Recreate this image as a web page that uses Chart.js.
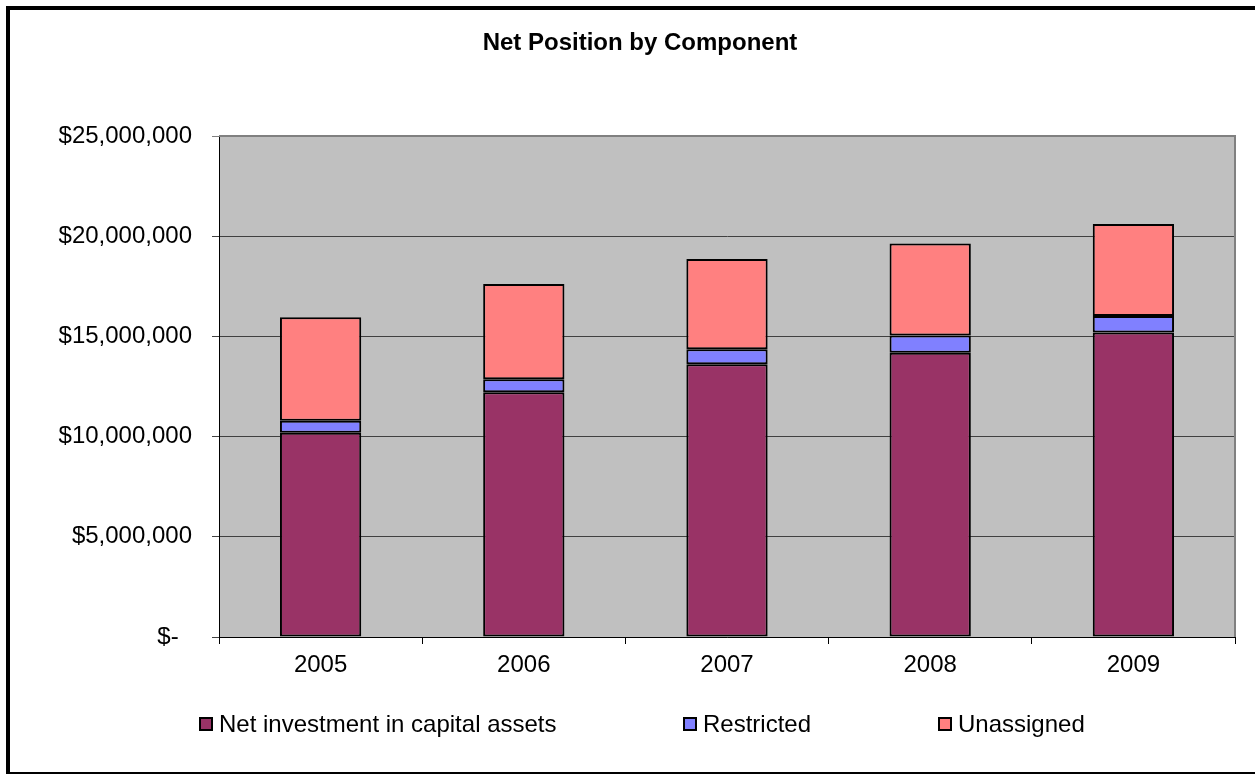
<!DOCTYPE html>
<html>
<head>
<meta charset="utf-8">
<script src="https://cdn.jsdelivr.net/npm/chart.js@4/dist/chart.umd.min.js"></script>
<style>
  html, body { margin: 0; padding: 0; background: #fff; }
  canvas { display: block; }
</style>
</head>
<body>
<canvas id="myChart" width="1255" height="774"></canvas>
<script>
const years = ['2005', '2006', '2007', '2008', '2009'];
const netInvestment = [10190000, 12210000, 13610000, 14190000, 15200000];
const restricted = [600000, 650000, 750000, 850000, 820000];
const unassigned = [5160000, 4750000, 4500000, 4590000, 4590000];
const yTicks = [0, 5000000, 10000000, 15000000, 20000000, 25000000];

const FONT = '"Liberation Sans", Arial, sans-serif';

function money(v) {
    if (v === 0) return '$-  ';
    return '$' + v.toLocaleString('en-US');
}

// frame, grey plot area, title and legend
const decor = {
    id: 'decor',
    beforeDraw(chart) {
        const ctx = chart.ctx;
        const a = chart.chartArea;
        ctx.save();
        ctx.fillStyle = '#fff';
        ctx.fillRect(0, 0, chart.width, chart.height);
        ctx.fillStyle = '#c0c0c0';
        ctx.fillRect(a.left, a.top, a.right - a.left, a.bottom - a.top);
        ctx.restore();
    },
    afterDraw(chart) {
        const ctx = chart.ctx;
        const a = chart.chartArea;
        ctx.save();
        // plot border top / right
        ctx.strokeStyle = '#808080';
        ctx.lineWidth = 2;
        ctx.beginPath();
        ctx.moveTo(a.left, a.top);
        ctx.lineTo(a.right, a.top);
        ctx.lineTo(a.right, a.bottom);
        ctx.stroke();

        // outer frame
        ctx.fillStyle = '#000';
        ctx.fillRect(6, 6, chart.width - 6, 4);
        ctx.fillRect(6, 6, 4, chart.height - 6);
        ctx.fillRect(6, chart.height - 2, chart.width - 6, 2);

        // title
        ctx.font = 'bold 24px ' + FONT;
        ctx.textAlign = 'center';
        ctx.textBaseline = 'middle';
        ctx.fillText('Net Position by Component', 640, 43);

        // legend
        const xs = [200, 684, 939];
        const ly = 724;
        ctx.font = '24px ' + FONT;
        ctx.textAlign = 'left';
        chart.data.datasets.forEach((ds, i) => {
            ctx.fillStyle = ds.backgroundColor;
            ctx.fillRect(xs[i], ly - 6, 12, 12);
            ctx.strokeStyle = '#000';
            ctx.lineWidth = 2;
            ctx.strokeRect(xs[i], ly - 6, 12, 12);
            ctx.fillStyle = '#000';
            ctx.fillText(ds.label, xs[i] + 19, ly + 1);
        });
        ctx.restore();
    }
};

const data = {
    labels: years,
    datasets: [
        { label: 'Net investment in capital assets', data: netInvestment, backgroundColor: '#993366' },
        { label: 'Restricted', data: restricted, backgroundColor: '#8080ff' },
        { label: 'Unassigned', data: unassigned, backgroundColor: '#ff8080' }
    ].map(d => Object.assign(d, {
        borderColor: '#000',
        borderWidth: 2,
        borderSkipped: false,
        categoryPercentage: 1,
        barPercentage: 0.4
    }))
};

new Chart(document.getElementById('myChart'), {
    type: 'bar',
    data: data,
    options: {
        responsive: false,
        animation: false,
        devicePixelRatio: 1,
        layout: { padding: { top: 136, right: 20, bottom: 97, left: 0 } },
        plugins: {
            legend: { display: false },
            title: { display: false },
            tooltip: { enabled: false }
        },
        scales: {
            x: {
                stacked: true,
                afterFit: s => { s.height = 40; },
                grid: {
                    offset: true,
                    drawOnChartArea: false,
                    drawTicks: true,
                    tickLength: 7,
                    color: '#000'
                },
                border: { color: '#000', width: 1 },
                ticks: { color: '#000', padding: 7, font: { family: FONT, size: 24 } }
            },
            y: {
                stacked: true,
                min: 0,
                max: 25000000,
                afterFit: s => { s.width = 219; },
                afterBuildTicks: s => { s.ticks = yTicks.map(v => ({ value: v })); },
                grid: {
                    tickLength: 7,
                    color: ctx => ctx.tick && ctx.tick.value === 25000000 ? '#808080' : '#404040',
                    lineWidth: 1
                },
                border: { color: '#000', width: 1 },
                ticks: {
                    color: '#000',
                    padding: 20,
                    font: { family: FONT, size: 24 },
                    callback: v => money(v)
                }
            }
        }
    },
    plugins: [decor]
});
</script>
</body>
</html>
